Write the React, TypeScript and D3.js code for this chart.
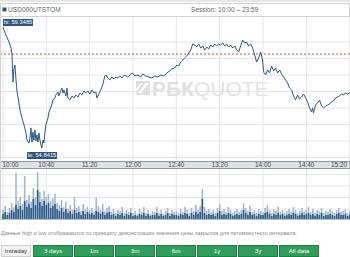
import React from "react";
import * as d3 from "d3";

const ticker = "USD000UTSTOM";
const sessionText = "Session: 10:00 – 23:59";
const hiValue = 59.3485;
const loValue = 54.8415;
const prevClose = 58.3427;

// minutes after 10:00
const priceMinutes = [0, 2, 4, 5.5, 7.4, 8.3, 9.2, 10, 11, 12, 13, 14.7, 15.7, 17.5, 19.4, 21.2, 22.1, 24, 24.9, 25.8, 26.7, 27.6, 28.6, 29.5, 30.4, 31.3, 32.3, 33.2, 34.1, 35, 35.9, 36.9, 37.8, 38.7, 39.6, 41.5, 42.4, 43.3, 45.2, 46.1, 47.9, 48.8, 50.7, 51.6, 53.5, 54.4, 55.3, 56.2, 58.1, 59, 59.9, 61.8, 63.6, 65.4, 67.3, 69.1, 71, 72.8, 74.7, 76.5, 78.3, 80.2, 82, 83.9, 85.7, 86.6, 88.5, 90.3, 92.2, 94, 94.9, 96.8, 98.6, 100.5, 102.3, 104.1, 106, 107.8, 109.7, 112.4, 115.2, 118, 119.8, 121.7, 124.4, 127.2, 129, 131.8, 134.6, 137.3, 140.1, 142.9, 145.6, 148.4, 151.2, 153.9, 155.8, 158.5, 160.4, 162.2, 164, 165.9, 167.7, 169.6, 171.4, 173.3, 175.1, 177, 178.8, 180.6, 182.5, 184.3, 186.2, 188, 189.9, 191.7, 193.5, 195.4, 197.2, 199.1, 200.9, 202.8, 204.6, 206.5, 208.3, 210.1, 212, 213.8, 215.7, 217.5, 219.4, 221.2, 223, 224.9, 226.7, 228.6, 230.4, 232.3, 234.1, 236, 237.8, 239.6, 240.6, 242.4, 244.2, 246.1, 247.9, 249.8, 251.6, 253.5, 255.3, 257.1, 259, 260.8, 262.7, 264.5, 266.4, 268.2, 270, 271.9, 273.7, 275.6, 277.4, 279.3, 281.1, 283, 284.8, 285.7, 286.6, 288.5, 290.3, 292.2, 294, 295.9, 297.7, 299.5, 301.4, 303.2, 305.1, 306.9, 308.8, 310.6, 312.4, 314.3, 316.1, 318, 319.8];

const priceValues = [59.348, 59.125, 58.939, 58.790, 58.566, 58.306, 57.300, 57.747, 57.933, 57.375, 56.928, 56.518, 56.257, 55.959, 55.699, 55.401, 55.140, 55.028, 55.214, 55.587, 55.065, 55.438, 55.140, 55.512, 55.103, 55.326, 55.065, 55.401, 55.140, 54.954, 54.8415, 55.140, 55.028, 55.438, 55.699, 55.959, 56.183, 56.257, 56.481, 56.630, 56.704, 56.816, 56.928, 56.779, 57.002, 57.077, 56.890, 57.002, 56.779, 57.077, 56.704, 56.630, 56.779, 56.704, 56.816, 56.741, 56.890, 56.816, 56.965, 56.890, 56.965, 56.853, 57.002, 56.890, 56.928, 56.704, 56.853, 57.002, 57.226, 57.524, 57.561, 57.449, 57.375, 57.486, 57.412, 57.486, 57.449, 57.524, 57.449, 57.561, 57.486, 57.598, 57.635, 57.524, 57.561, 57.486, 57.598, 57.524, 57.486, 57.449, 57.524, 57.486, 57.561, 57.524, 57.635, 57.710, 57.784, 57.822, 57.933, 57.896, 58.045, 58.119, 58.194, 58.268, 58.380, 58.492, 58.715, 58.678, 58.604, 58.715, 58.566, 58.641, 58.492, 58.604, 58.529, 58.678, 58.604, 58.715, 58.641, 58.715, 58.678, 58.753, 58.641, 58.715, 58.604, 58.678, 58.566, 58.641, 58.492, 58.417, 58.641, 58.864, 58.753, 58.790, 58.641, 58.715, 58.566, 58.306, 58.045, 58.194, 58.417, 58.119, 57.672, 57.561, 57.747, 57.635, 57.896, 57.710, 57.822, 57.635, 57.747, 57.598, 57.486, 57.375, 57.263, 57.077, 57.002, 56.779, 56.630, 56.816, 56.667, 56.741, 56.853, 56.704, 56.555, 56.332, 56.183, 56.332, 56.146, 56.444, 56.518, 56.630, 56.406, 56.332, 56.406, 56.444, 56.481, 56.555, 56.593, 56.704, 56.741, 56.779, 56.853, 56.816, 56.890, 56.853, 56.890];

// volume bars, one every 2 minutes from 10:00
const volumeAll = [
  9, 13, 7, 11, 16, 12, 46, 18, 22, 15,
  43, 19, 24, 17, 31, 22, 47, 27, 20, 28,
  22, 25, 18, 21, 25, 16, 14, 19, 12, 17,
  10, 14, 9, 22, 11, 13, 8, 15, 10, 12,
  9, 11, 7, 21, 13, 9, 15, 8, 11, 13,
  7, 10, 6, 9, 8, 12, 6, 9, 7, 11,
  6, 8, 5, 10, 7, 12, 6, 9, 5, 8,
  7, 12, 6, 9, 5, 8, 11, 6, 9, 7,
  8, 6, 10, 7, 12, 9, 6, 11, 8, 14,
  9, 13, 30, 12, 8, 10, 7, 9, 6, 11,
  15, 8, 10, 7, 12, 9, 6, 8, 10, 7,
  9, 16, 11, 8, 13, 7, 9, 6, 10, 8,
  7, 11, 14, 9, 6, 10, 8, 12, 7, 9,
  6, 8, 10, 7, 12, 9, 6, 8, 11, 7,
  9, 12, 7, 10, 6, 9, 8, 11, 6, 8,
  7, 10, 8, 6, 9, 11, 7, 8, 10, 6, 8,
];
const volumeMain = [
  5, 7, 4, 6, 9, 7, 14, 10, 13, 9,
  18, 12, 15, 11, 20, 14, 29, 17, 13, 18,
  14, 16, 11, 13, 15, 10, 8, 11, 7, 10,
  6, 8, 5, 9, 6, 7, 4, 8, 5, 7,
  5, 6, 4, 8, 7, 5, 7, 4, 6, 7,
  4, 5, 3, 5, 4, 6, 3, 5, 4, 6,
  3, 4, 3, 5, 4, 6, 3, 5, 3, 4,
  4, 6, 3, 5, 3, 4, 6, 3, 5, 4,
  4, 3, 5, 4, 6, 5, 3, 6, 4, 7,
  5, 7, 20, 6, 4, 5, 4, 5, 3, 6,
  8, 4, 5, 4, 6, 5, 3, 4, 5, 4,
  5, 9, 6, 4, 7, 4, 5, 3, 5, 4,
  4, 6, 7, 5, 3, 5, 4, 6, 4, 5,
  3, 4, 5, 4, 6, 5, 3, 4, 6, 4,
  5, 6, 4, 5, 3, 5, 4, 6, 3, 4,
  4, 5, 4, 3, 5, 6, 4, 4, 5, 3, 4,
];

const tickMinutes = [0, 40, 80, 120, 160, 200, 240, 280, 320];
const tickLabels = ["10:00", "10:40", "11:20", "12:00", "12:40", "13:20", "14:00", "14:40", "15:20"];

const noteText = "Данные high и low отображаются по принципу демонстрации значения цены закрытия для пятиминутного интервала.";
const periodButtons = ["Intraday", "3 days", "1m", "3m", "6m", "1y", "3y", "All data"];

const W = 350;
const H = 257;
const FONT = "'Liberation Sans', Arial, sans-serif";

export default function App() {
  const x = d3.scaleLinear().domain([0, 320]).range([3, 349.7]);
  const y = d3.scaleLinear().domain([loValue, hiValue]).range([148, 27]);
  const yv = d3.scaleLinear().domain([0, 48]).range([219, 171]);

  const pts = priceMinutes.map((m, i) => [m, priceValues[i]] as [number, number]);
  const line = d3.line<[number, number]>().x((d) => x(d[0])).y((d) => y(d[1]));

  const priceGrid = d3.range(42, 160, 16.5);
  const volGrid = d3.range(174.5, 216, 11.5);

  const bx = (i: number) => x(i * 2);

  const btnX = [1, 33, 74, 115, 156, 197, 238, 279];
  const btnW = [30, 40, 40, 40, 40, 40, 40, 40];

  return (
    <svg width={W} height={H} style={{ position: "absolute", left: 0, top: 0, background: "#fff" }} fontFamily={FONT}>
      {/* header */}
      <rect x={0} y={0} width={W} height={2} fill="#e6e6e6" />
      <rect x={0.5} y={3.5} width={W - 1} height={13} fill="#fff" stroke="#cfd3d8" />
      <rect x={2.5} y={7.5} width={4} height={4} fill="#2c5680" />
      <text x={8} y={12.3} fontSize={6.6} fill="#666">{ticker}</text>
      <text x={191} y={12.3} fontSize={6.6} fill="#666">{sessionText}</text>

      {/* price panel */}
      <g>
        {priceGrid.map((gy, i) => (
          <line key={"hg" + i} x1={0} x2={W} y1={gy} y2={gy} stroke="#e6e6e6" strokeWidth={1} />
        ))}
        {tickMinutes.map((m, i) => (
          <line key={"vg" + i} x1={x(m)} x2={x(m)} y1={17} y2={161} stroke="#e6e6e6" strokeWidth={1} />
        ))}
        {/* watermark */}
        <g fill="#e0e0e0">
          <rect x={136} y={81} width={14} height={14} fill="#e0e0e0" />
          <path d="M138,93 L146,83 L149,83 L141,93 Z" fill="#fff" />
          <path d="M136,89 L141,83 L143,83 L136,91.5 Z" fill="#fff" />
          <text x={152} y={96} fontSize={21} fontFamily={FONT}>
            <tspan fontWeight="bold">РБК</tspan>
            <tspan fontWeight="normal" fill="#e3e3e3">QUOTE</tspan>
          </text>
        </g>
        <line x1={0} x2={W} y1={y(prevClose)} y2={y(prevClose)} stroke="#e0463c" strokeWidth={1.2} strokeDasharray="2,2" />
        <path d={line(pts) || ""} fill="none" stroke="#2a5a88" strokeWidth={1} strokeLinejoin="round" />
        <rect x={3} y={19} width={30} height={7} fill="#2c5680" />
        <text x={18} y={24.4} fontSize={5.8} fill="#fff" textAnchor="middle">{"hi: " + hiValue.toFixed(4)}</text>
        <rect x={27} y={152} width={30} height={7} fill="#2c5680" />
        <text x={42} y={157.4} fontSize={5.8} fill="#fff" textAnchor="middle">{"lo: " + loValue.toFixed(4)}</text>
      </g>

      {/* time axis bar */}
      <rect x={0} y={161.5} width={W} height={7} fill="#dfe3e8" stroke="#8e99a6" strokeWidth={1} />
      {tickMinutes.map((m, i) => (
        <text key={"tl" + i} x={Math.min(Math.max(x(m), 10.5), 339)} y={167.3} fontSize={6.4} fill="#444" textAnchor="middle">{tickLabels[i]}</text>
      ))}

      {/* volume panel */}
      <g>
        {volGrid.map((gy, i) => (
          <line key={"vhg" + i} x1={0} x2={W} y1={gy} y2={gy} stroke="#e6e6e6" />
        ))}
        {tickMinutes.map((m, i) => (
          <line key={"vvg" + i} x1={x(m)} x2={x(m)} y1={169} y2={219} stroke="#e6e6e6" />
        ))}
        {volumeAll.map((v, i) => (
          <rect key={"va" + i} x={bx(i) - 0.8} y={yv(v)} width={1.6} height={yv(0) - yv(v)} fill="#a4b7cc" />
        ))}
        {volumeMain.map((v, i) => (
          <rect key={"vm" + i} x={bx(i) - 0.8} y={yv(v)} width={1.6} height={yv(0) - yv(v)} fill="#2b5a87" />
        ))}
        <line x1={0} x2={W} y1={219.5} y2={219.5} stroke="#b9c0c8" />
        <line x1={0.5} x2={0.5} y1={17} y2={219.5} stroke="#cfd3d8" />
      </g>

      {/* note */}
      <text x={1} y={235} fontSize={5.6} fill="#888" textLength={296} lengthAdjust="spacingAndGlyphs">{noteText}</text>

      {/* buttons */}
      {periodButtons.map((b, i) => {
        const first = i === 0;
        return (
          <g key={"b" + i}>
            <rect x={btnX[i] + 0.5} y={245.5} width={btnW[i] - 1} height={11} fill={first ? "#f2f2f2" : "#2f9d5b"} stroke={first ? "#cfcfcf" : "#1f7d43"} />
            <text x={btnX[i] + btnW[i] / 2} y={253} fontSize={6.2} fill={first ? "#333" : "#fff"} textAnchor="middle">{b}</text>
          </g>
        );
      })}
    </svg>
  );
}
